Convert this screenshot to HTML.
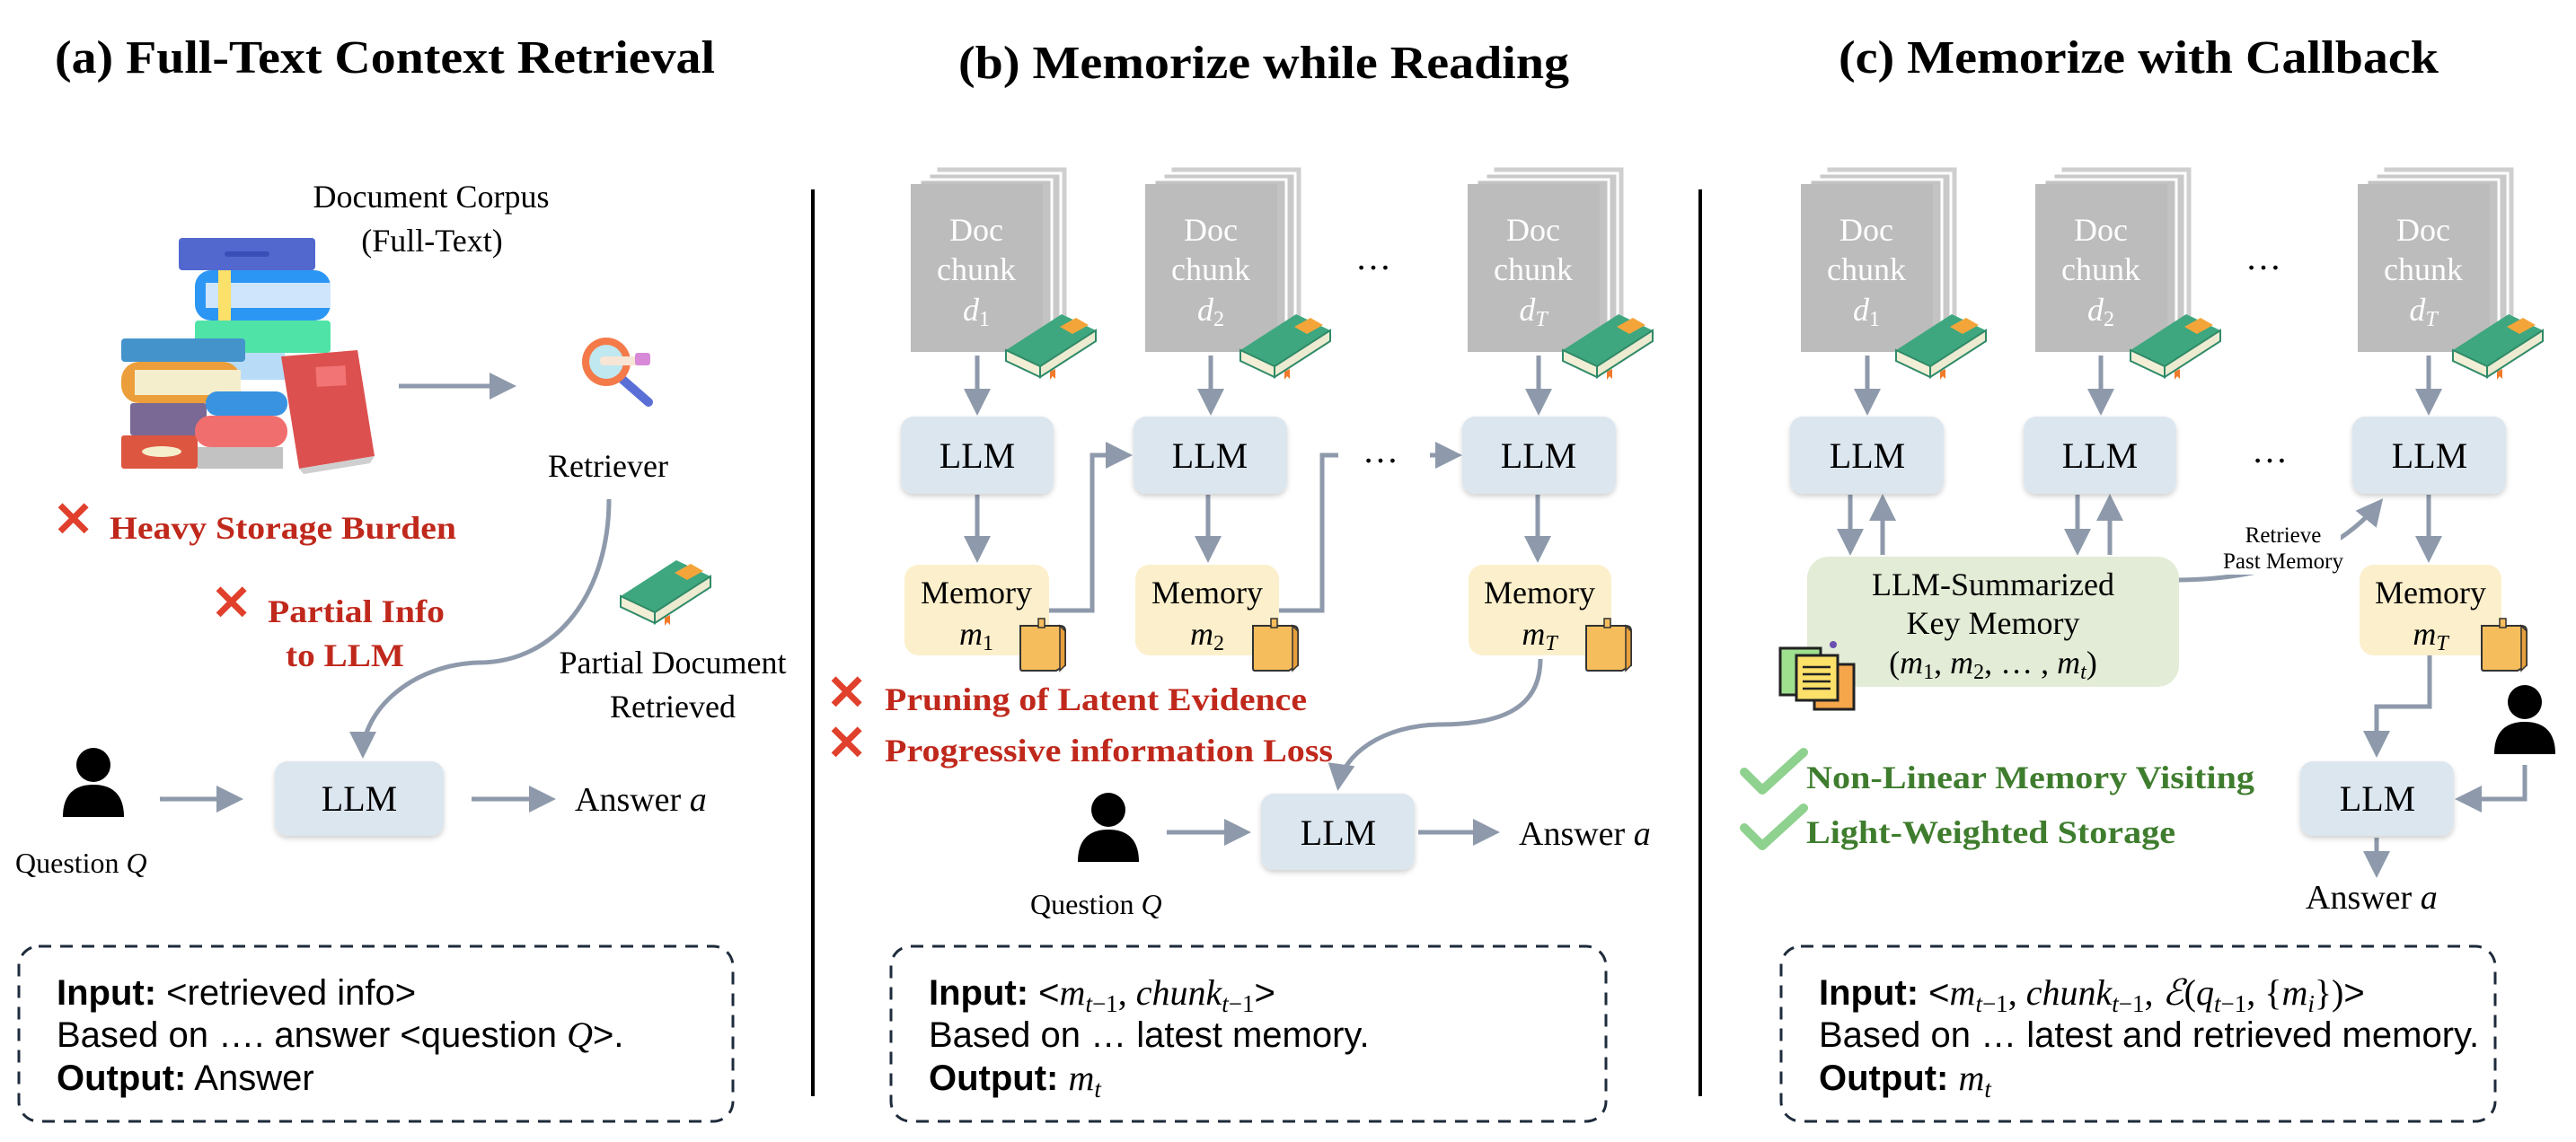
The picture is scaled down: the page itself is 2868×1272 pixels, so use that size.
<!DOCTYPE html>
<html><head><meta charset="utf-8"><style>
html,body{margin:0;padding:0;background:#fff;}
svg{display:block;}
.t{font-family:"Liberation Serif",serif;}
.s{font-family:"Liberation Sans",sans-serif;}
</style></head><body>
<svg width="2868" height="1272" viewBox="0 0 2868 1272" xmlns="http://www.w3.org/2000/svg">
<defs>
<marker id="ah" markerWidth="6" markerHeight="6" refX="5" refY="3" orient="auto" markerUnits="strokeWidth"><path d="M0,0 L6,3 L0,6 z" fill="#8e9aab"/></marker>
<filter id="sh" x="-10%" y="-10%" width="120%" height="130%"><feDropShadow dx="0" dy="3" stdDeviation="3" flood-color="#000" flood-opacity="0.18"/></filter>
<g id="doc">
<rect x="28" y="-20" width="147" height="187" fill="#cfcfcf" stroke="#fff" stroke-width="3"/>
<rect x="20" y="-12" width="147" height="187" fill="#c9c9c9" stroke="#fff" stroke-width="3"/>
<rect x="10" y="-5" width="147" height="187" fill="#c3c3c3" stroke="#fff" stroke-width="3"/>
<rect x="0" y="0" width="147" height="187" fill="#bcbcbc"/>
</g>
<g id="book">
<path d="M0,40 L62,0 L100,18 L38,58 Z" fill="#3fa77f"/>
<path d="M0,40 L38,58 L38,70 L0,52 Z" fill="#f3efd6" stroke="#2f8a68" stroke-width="2"/>
<path d="M38,58 L100,18 L100,30 L38,70 Z" fill="#ecead0" stroke="#2f8a68" stroke-width="2"/>
<path d="M60,14 L78,4 L92,12 L74,22 Z" fill="#f4a53a"/>
<path d="M49,64 L55,61 L55,72 L52,69 L49,73 Z" fill="#f07a2a"/>
</g>
<g id="note">
<path d="M0,8 L44,8 Q50,8 50,14 L50,52 L40,58 L2,58 Q0,58 0,55 Z" fill="#f5bd5c" stroke="#333" stroke-width="2"/>
<path d="M44,8 L50,14 L50,52 L44,58 Z" fill="#e79f3c" stroke="#333" stroke-width="1.5"/>
<rect x="20" y="0" width="7" height="10" fill="#f5bd5c" stroke="#333" stroke-width="1.5"/>
</g>
<g id="person">
<circle cx="0" cy="0" r="19" fill="#000"/>
<path d="M-34,58 C-34,30 -18,22 0,22 C18,22 34,30 34,58 Z" fill="#000"/>
</g>
</defs>

<!-- Titles -->
<text class="t" x="61" y="81" font-size="52" font-weight="bold" textLength="735" lengthAdjust="spacingAndGlyphs">(a) Full-Text Context Retrieval</text>
<text class="t" x="1067" y="87" font-size="52" font-weight="bold" textLength="680" lengthAdjust="spacingAndGlyphs">(b) Memorize while Reading</text>
<text class="t" x="2047" y="81" font-size="52" font-weight="bold" textLength="668" lengthAdjust="spacingAndGlyphs">(c) Memorize with Callback</text>

<!-- dividers -->
<line x1="905" y1="211" x2="905" y2="1221" stroke="#000" stroke-width="4"/>
<line x1="1893" y1="211" x2="1893" y2="1221" stroke="#000" stroke-width="4"/>

<!-- ===== Panel A ===== -->
<text class="t" x="480" y="231" font-size="36" text-anchor="middle">Document Corpus</text>
<text class="t" x="481" y="280" font-size="36" text-anchor="middle">(Full-Text)</text>
<!-- books -->
<rect x="217" y="357" width="151" height="36" rx="4" fill="#4fe3a8"/>
<rect x="217" y="393" width="100" height="30" fill="#b8dcf7"/>
<rect x="217" y="301" width="151" height="56" rx="18" fill="#2c96f5"/>
<rect x="229" y="315" width="139" height="28" fill="#cfe5fb"/>
<rect x="243" y="301" width="14" height="56" fill="#fbe06a"/>
<rect x="199" y="265" width="152" height="36" rx="4" fill="#5268cf"/>
<rect x="250" y="280" width="50" height="6" rx="3" fill="#3b4fb8"/>
<rect x="135" y="377" width="138" height="26" rx="4" fill="#4593cb"/>
<rect x="135" y="403" width="133" height="46" rx="20" fill="#eb9e3a"/>
<rect x="150" y="412" width="118" height="28" fill="#f5eecd"/>
<rect x="145" y="449" width="85" height="36" rx="3" fill="#7a6895"/>
<rect x="135" y="485" width="85" height="37" rx="3" fill="#dd5640"/>
<ellipse cx="180" cy="503" rx="22" ry="6" fill="#f5eecd"/>
<rect x="229" y="436" width="91" height="27" rx="13" fill="#3993e0"/>
<rect x="217" y="463" width="103" height="35" rx="17" fill="#f16e6e"/>
<rect x="220" y="498" width="95" height="24" fill="#c2c2c2"/>
<path d="M313,397 L398,390 L417,508 L333,522 Z" fill="#dc514f"/>
<path d="M333,522 L417,508 L412,516 L338,528 Z" fill="#cfcfcf"/>
<rect x="352" y="408" width="33" height="22" fill="#f27474" transform="rotate(-3 368 419)"/>
<!-- arrow to retriever -->
<line x1="444" y1="430" x2="570" y2="430" stroke="#8e9aab" stroke-width="5" marker-end="url(#ah)"/>
<!-- magnifier -->
<line x1="690" y1="420" x2="722" y2="448" stroke="#5a6fd6" stroke-width="10" stroke-linecap="round"/>
<circle cx="675" cy="403" r="27" fill="#f47a4a"/>
<circle cx="675" cy="403" r="19" fill="#bfe8f0"/>
<rect x="668" y="397" width="45" height="10" rx="4" fill="#f7e5d5"/>
<rect x="707" y="393" width="17" height="14" rx="3" fill="#d88ad8"/>
<text class="t" x="677" y="531" font-size="36" text-anchor="middle">Retriever</text>
<!-- red notes -->
<text class="s" x="59" y="597" font-size="54" fill="#e0402c" font-weight="bold">✕</text>
<text class="t" x="122" y="600" font-size="36" font-weight="bold" fill="#c0281c" textLength="386" lengthAdjust="spacingAndGlyphs">Heavy Storage Burden</text>
<text class="s" x="235" y="690" font-size="54" fill="#e0402c" font-weight="bold">✕</text>
<text class="t" x="298" y="693" font-size="36" font-weight="bold" fill="#c0281c" textLength="197" lengthAdjust="spacingAndGlyphs">Partial Info</text>
<text class="t" x="318" y="742" font-size="36" font-weight="bold" fill="#c0281c" textLength="132" lengthAdjust="spacingAndGlyphs">to LLM</text>
<use href="#book" x="691" y="624"/>
<text class="t" x="749" y="750" font-size="36" text-anchor="middle">Partial Document</text>
<text class="t" x="749" y="799" font-size="36" text-anchor="middle">Retrieved</text>
<path d="M678,556 C678,660 620,738 533,738 C460,740 404,790 404,840" fill="none" stroke="#8e9aab" stroke-width="5" marker-end="url(#ah)"/>
<use href="#person" x="104" y="852"/>
<text class="t" x="17" y="972" font-size="32">Question <tspan font-style="italic">Q</tspan></text>
<line x1="178" y1="890" x2="266" y2="890" stroke="#8e9aab" stroke-width="5" marker-end="url(#ah)"/>
<rect x="306" y="848" width="188" height="83" rx="14" fill="#dce6ef" filter="url(#sh)"/>
<text class="t" x="400" y="903" font-size="40" text-anchor="middle">LLM</text>
<line x1="525" y1="890" x2="614" y2="890" stroke="#8e9aab" stroke-width="5" marker-end="url(#ah)"/>
<text class="t" x="640" y="903" font-size="38">Answer <tspan font-style="italic">a</tspan></text>
<rect x="21" y="1054" width="795" height="195" rx="22" fill="none" stroke="#1e2b3b" stroke-width="3" stroke-dasharray="14 10"/>
<text class="s" x="63" y="1119" font-size="40"><tspan font-weight="bold">Input:</tspan> &lt;retrieved info&gt;</text>
<text class="s" x="63" y="1166" font-size="40">Based on …. answer &lt;question <tspan class="t" font-style="italic">Q</tspan>&gt;.</text>
<text class="s" x="63" y="1214" font-size="40"><tspan font-weight="bold">Output:</tspan> Answer</text>

<!-- ===== Panel B ===== -->
<use href="#doc" x="1014" y="205"/>
<use href="#doc" x="1275" y="205"/>
<use href="#doc" x="1634" y="205"/>
<g class="t" font-size="36" fill="#fff" text-anchor="middle">
<text x="1087" y="268">Doc</text><text x="1087" y="312">chunk</text><text x="1087" y="357" font-style="italic">d<tspan font-size="24" dy="6" font-style="normal">1</tspan></text>
<text x="1348" y="268">Doc</text><text x="1348" y="312">chunk</text><text x="1348" y="357" font-style="italic">d<tspan font-size="24" dy="6" font-style="normal">2</tspan></text>
<text x="1707" y="268">Doc</text><text x="1707" y="312">chunk</text><text x="1707" y="357" font-style="italic">d<tspan font-size="24" dy="6">T</tspan></text>
</g>
<use href="#book" x="1120" y="350"/><use href="#book" x="1381" y="350"/><use href="#book" x="1740" y="350"/>
<text class="t" x="1529" y="300" font-size="40" text-anchor="middle">…</text>
<g stroke="#8e9aab" stroke-width="5" fill="none">
<line x1="1088" y1="396" x2="1088" y2="458" marker-end="url(#ah)"/>
<line x1="1348" y1="396" x2="1348" y2="458" marker-end="url(#ah)"/>
<line x1="1713" y1="396" x2="1713" y2="458" marker-end="url(#ah)"/>
<line x1="1088" y1="551" x2="1088" y2="622" marker-end="url(#ah)"/>
<line x1="1345" y1="551" x2="1345" y2="622" marker-end="url(#ah)"/>
<line x1="1712" y1="551" x2="1712" y2="622" marker-end="url(#ah)"/>
<polyline points="1168,680 1216,680 1216,507 1256,507" marker-end="url(#ah)"/>
<polyline points="1424,680 1472,680 1472,507 1490,507"/>
<line x1="1592" y1="507" x2="1623" y2="507" marker-end="url(#ah)"/>
<path d="M1715,734 C1715,790 1670,807 1602,807 C1540,808 1495,840 1490,876" marker-end="url(#ah)"/>
<line x1="1299" y1="927" x2="1388" y2="927" marker-end="url(#ah)"/>
<line x1="1579" y1="927" x2="1665" y2="927" marker-end="url(#ah)"/>
</g>
<text class="t" x="1537" y="515" font-size="40" text-anchor="middle">…</text>
<g filter="url(#sh)" fill="#dce6ef">
<rect x="1003" y="464" width="170" height="86" rx="14"/>
<rect x="1262" y="464" width="171" height="86" rx="14"/>
<rect x="1628" y="464" width="171" height="86" rx="14"/>
<rect x="1404" y="884" width="171" height="85" rx="14"/>
</g>
<g class="t" font-size="40" text-anchor="middle">
<text x="1088" y="521">LLM</text><text x="1347" y="521">LLM</text><text x="1713" y="521">LLM</text><text x="1490" y="941">LLM</text>
</g>
<g fill="#fcefcb">
<rect x="1007" y="629" width="161" height="101" rx="16"/>
<rect x="1264" y="629" width="160" height="101" rx="16"/>
<rect x="1635" y="629" width="159" height="101" rx="16"/>
</g>
<g class="t" font-size="36" text-anchor="middle">
<text x="1087" y="672">Memory</text><text x="1087" y="718" font-style="italic">m<tspan font-size="24" dy="6" font-style="normal">1</tspan></text>
<text x="1344" y="672">Memory</text><text x="1344" y="718" font-style="italic">m<tspan font-size="24" dy="6" font-style="normal">2</tspan></text>
<text x="1714" y="672">Memory</text><text x="1714" y="718" font-style="italic">m<tspan font-size="24" dy="6">T</tspan></text>
</g>
<use href="#note" x="1136" y="689"/><use href="#note" x="1395" y="689"/><use href="#note" x="1766" y="689"/>
<text class="s" x="920" y="790" font-size="54" fill="#e0402c" font-weight="bold">✕</text>
<text class="t" x="985" y="791" font-size="36" font-weight="bold" fill="#c0281c" textLength="470" lengthAdjust="spacingAndGlyphs">Pruning of Latent Evidence</text>
<text class="s" x="920" y="846" font-size="54" fill="#e0402c" font-weight="bold">✕</text>
<text class="t" x="985" y="848" font-size="36" font-weight="bold" fill="#c0281c" textLength="499" lengthAdjust="spacingAndGlyphs">Progressive information Loss</text>
<use href="#person" x="1234" y="902"/>
<text class="t" x="1147" y="1018" font-size="32">Question <tspan font-style="italic">Q</tspan></text>
<text class="t" x="1691" y="941" font-size="38">Answer <tspan font-style="italic">a</tspan></text>
<rect x="992" y="1054" width="796" height="195" rx="22" fill="none" stroke="#1e2b3b" stroke-width="3" stroke-dasharray="14 10"/>
<text class="s" x="1034" y="1119" font-size="40"><tspan font-weight="bold">Input:</tspan> &lt;<tspan class="t" font-style="italic">m</tspan><tspan class="t" font-style="italic" font-size="27" dy="8">t</tspan><tspan class="t" font-size="27">−1</tspan><tspan class="t" dy="-8">, </tspan><tspan class="t" font-style="italic">chunk</tspan><tspan class="t" font-style="italic" font-size="27" dy="8">t</tspan><tspan class="t" font-size="27">−1</tspan><tspan dy="-8">&gt;</tspan></text>
<text class="s" x="1034" y="1166" font-size="40">Based on … latest memory.</text>
<text class="s" x="1034" y="1214" font-size="40"><tspan font-weight="bold">Output:</tspan> <tspan class="t" font-style="italic">m</tspan><tspan class="t" font-style="italic" font-size="27" dy="8">t</tspan></text>

<!-- ===== Panel C ===== -->
<use href="#doc" x="2005" y="205"/>
<use href="#doc" x="2266" y="205"/>
<use href="#doc" x="2625" y="205"/>
<g class="t" font-size="36" fill="#fff" text-anchor="middle">
<text x="2078" y="268">Doc</text><text x="2078" y="312">chunk</text><text x="2078" y="357" font-style="italic">d<tspan font-size="24" dy="6" font-style="normal">1</tspan></text>
<text x="2339" y="268">Doc</text><text x="2339" y="312">chunk</text><text x="2339" y="357" font-style="italic">d<tspan font-size="24" dy="6" font-style="normal">2</tspan></text>
<text x="2698" y="268">Doc</text><text x="2698" y="312">chunk</text><text x="2698" y="357" font-style="italic">d<tspan font-size="24" dy="6">T</tspan></text>
</g>
<use href="#book" x="2111" y="350"/><use href="#book" x="2372" y="350"/><use href="#book" x="2731" y="350"/>
<text class="t" x="2520" y="300" font-size="40" text-anchor="middle">…</text>
<text class="t" x="2527" y="515" font-size="40" text-anchor="middle">…</text>
<rect x="2012" y="620" width="414" height="145" rx="24" fill="#e3ecd6"/>
<g class="t" font-size="36" text-anchor="middle">
<text x="2219" y="663">LLM-Summarized</text>
<text x="2219" y="706">Key Memory</text>
<text x="2219" y="750">(<tspan font-style="italic">m</tspan><tspan font-size="24" dy="6">1</tspan><tspan dy="-6">, </tspan><tspan font-style="italic">m</tspan><tspan font-size="24" dy="6">2</tspan><tspan dy="-6">, … , </tspan><tspan font-style="italic">m</tspan><tspan font-size="24" dy="6" font-style="italic">t</tspan><tspan dy="-6">)</tspan></text>
</g>
<!-- notes icon -->
<rect x="1982" y="722" width="45" height="52" fill="#9fe08f" stroke="#222" stroke-width="3"/>
<rect x="2020" y="740" width="44" height="50" fill="#f5a54a" stroke="#222" stroke-width="3"/>
<rect x="2000" y="730" width="46" height="50" fill="#fbe06a" stroke="#222" stroke-width="3"/>
<g stroke="#222" stroke-width="2.5"><line x1="2007" y1="743" x2="2038" y2="743"/><line x1="2007" y1="751" x2="2038" y2="751"/><line x1="2007" y1="759" x2="2038" y2="759"/><line x1="2007" y1="767" x2="2038" y2="767"/></g>
<circle cx="2041" cy="718" r="4" fill="#6a4fb0"/>
<g stroke="#8e9aab" stroke-width="5" fill="none">
<line x1="2079" y1="396" x2="2079" y2="458" marker-end="url(#ah)"/>
<line x1="2339" y1="396" x2="2339" y2="458" marker-end="url(#ah)"/>
<line x1="2704" y1="396" x2="2704" y2="458" marker-end="url(#ah)"/>
<line x1="2060" y1="551" x2="2060" y2="614" marker-end="url(#ah)"/>
<line x1="2096" y1="618" x2="2096" y2="555" marker-end="url(#ah)"/>
<line x1="2313" y1="551" x2="2313" y2="614" marker-end="url(#ah)"/>
<line x1="2349" y1="618" x2="2349" y2="555" marker-end="url(#ah)"/>
<line x1="2704" y1="551" x2="2704" y2="622" marker-end="url(#ah)"/>
<path d="M2426,646 C2520,645 2600,620 2650,559" marker-end="url(#ah)"/>
<polyline points="2705,730 2705,787 2646,787 2646,839" marker-end="url(#ah)"/>
<polyline points="2811,852 2811,890 2738,890" marker-end="url(#ah)"/>
<line x1="2646" y1="933" x2="2646" y2="973" marker-end="url(#ah)"/>
</g>
<rect x="2478" y="582" width="128" height="58" fill="#fff"/>
<text class="t" x="2542" y="604" font-size="25" text-anchor="middle">Retrieve</text>
<text class="t" x="2542" y="633" font-size="25" text-anchor="middle">Past Memory</text>
<g filter="url(#sh)" fill="#dce6ef">
<rect x="1993" y="464" width="171" height="86" rx="14"/>
<rect x="2253" y="464" width="170" height="86" rx="14"/>
<rect x="2619" y="464" width="171" height="86" rx="14"/>
<rect x="2561" y="848" width="171" height="83" rx="14"/>
</g>
<g class="t" font-size="40" text-anchor="middle">
<text x="2079" y="521">LLM</text><text x="2338" y="521">LLM</text><text x="2705" y="521">LLM</text><text x="2647" y="903">LLM</text>
</g>
<rect x="2627" y="629" width="158" height="101" rx="16" fill="#fcefcb"/>
<text class="t" x="2706" y="672" font-size="36" text-anchor="middle">Memory</text>
<text class="t" x="2706" y="718" font-size="36" text-anchor="middle" font-style="italic">m<tspan font-size="24" dy="6">T</tspan></text>
<use href="#note" x="2763" y="689"/>
<use href="#person" x="2811" y="782"/>
<text class="t" x="2567" y="1012" font-size="38">Answer <tspan font-style="italic">a</tspan></text>
<path d="M1942,860 L1962,880 L2008,838" fill="none" stroke="#8fd18f" stroke-width="10" stroke-linecap="round" stroke-linejoin="round"/>
<path d="M1942,922 L1962,942 L2008,900" fill="none" stroke="#8fd18f" stroke-width="10" stroke-linecap="round" stroke-linejoin="round"/>
<text class="t" x="2011" y="878" font-size="36" font-weight="bold" fill="#3f7d2e" textLength="499" lengthAdjust="spacingAndGlyphs">Non-Linear Memory Visiting</text>
<text class="t" x="2011" y="939" font-size="36" font-weight="bold" fill="#3f7d2e" textLength="411" lengthAdjust="spacingAndGlyphs">Light-Weighted Storage</text>
<rect x="1983" y="1054" width="795" height="195" rx="22" fill="none" stroke="#1e2b3b" stroke-width="3" stroke-dasharray="14 10"/>
<text class="s" x="2025" y="1119" font-size="40"><tspan font-weight="bold">Input:</tspan> &lt;<tspan class="t" font-style="italic">m</tspan><tspan class="t" font-style="italic" font-size="27" dy="8">t</tspan><tspan class="t" font-size="27">−1</tspan><tspan class="t" dy="-8">, </tspan><tspan class="t" font-style="italic">chunk</tspan><tspan class="t" font-style="italic" font-size="27" dy="8">t</tspan><tspan class="t" font-size="27">−1</tspan><tspan class="t" dy="-8">, </tspan><tspan class="t" font-style="italic">ℰ</tspan><tspan class="t">(</tspan><tspan class="t" font-style="italic">q</tspan><tspan class="t" font-style="italic" font-size="27" dy="8">t</tspan><tspan class="t" font-size="27">−1</tspan><tspan class="t" dy="-8">, {</tspan><tspan class="t" font-style="italic">m</tspan><tspan class="t" font-style="italic" font-size="27" dy="8">i</tspan><tspan class="t" dy="-8">})</tspan>&gt;</text>
<text class="s" x="2025" y="1166" font-size="40">Based on … latest and retrieved memory.</text>
<text class="s" x="2025" y="1214" font-size="40"><tspan font-weight="bold">Output:</tspan> <tspan class="t" font-style="italic">m</tspan><tspan class="t" font-style="italic" font-size="27" dy="8">t</tspan></text>
</svg>
</body></html>
